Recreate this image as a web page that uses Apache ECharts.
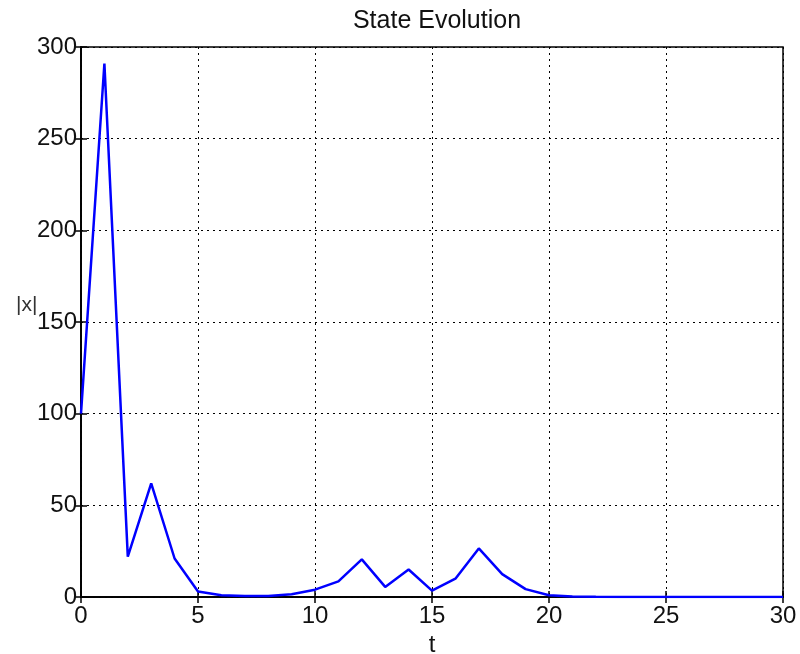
<!DOCTYPE html>
<html>
<head>
<meta charset="utf-8">
<script src="https://cdn.jsdelivr.net/npm/echarts@6/dist/echarts.min.js"></script>
<style>html,body{margin:0;padding:0;background:#fff}#c{width:800px;height:654px}</style>
</head>
<body>
<div id="c"></div>
<script>
const tValues = [0,1,2,3,4,5,6,7,8,9,10,11,12,13,14,15,16,17,18,19,20,21,22,23,24,25,26,27,28,29,30];
const xValues = [100,291,22,62,21,3,1,0.5,0.5,1.5,4,8.5,20.5,5.5,15,3.5,10,26.5,12.5,4.3,1,0.3,0.1,0,0,0,0,0,0,0,0];
const xTicks = [0,5,10,15,20,25,30];
const yTicks = [0,50,100,150,200,250,300];

const font = 'Liberation Sans, Arial, sans-serif';
const chart = echarts.init(document.getElementById('c'), null, {renderer:'canvas'});
const data = tValues.map((t,i)=>[t,xValues[i]]);
const gridLine = {show:true, lineStyle:{color:'#000', type:[2,4], width:1}};
chart.setOption({
  animation:false,
  backgroundColor:'#fff',
  title:{text:'State Evolution', left:432, textAlign:'center', top:4,
    textStyle:{fontFamily:font, fontWeight:'normal', fontSize:25, color:'#111'}},
  grid:{left:81, right:17, top:47, bottom:57, containLabel:false, outerBoundsMode:'none',
    show:true, borderColor:'#000', borderWidth:1.5, backgroundColor:'transparent'},
  xAxis:[{type:'value', min:0, max:30, interval:5,
    name:'t', nameLocation:'middle', nameGap:31,
    nameTextStyle:{fontFamily:font, fontSize:24, color:'#111'},
    axisLine:{show:true, lineStyle:{color:'#000', width:1.5}},
    axisTick:{show:true, inside:true, length:6, lineStyle:{color:'#000', width:1.5}},
    axisLabel:{fontFamily:font, fontSize:24, color:'#111', margin:7,
      formatter:v=>xTicks.includes(v)?String(v):''},
    splitLine:gridLine},
   {type:'value', position:'top', min:0, max:30, interval:5,
    axisLine:{show:true, lineStyle:{color:'#000', width:1.5}},
    axisTick:{show:true, inside:true, length:6, lineStyle:{color:'#000', width:1.5}},
    axisLabel:{show:false}, splitLine:{show:false}}],
  yAxis:[{type:'value', min:0, max:300, interval:50,
    axisLine:{show:true, lineStyle:{color:'#000', width:1.5}},
    axisTick:{show:true, inside:true, length:6, lineStyle:{color:'#000', width:1.5}},
    axisLabel:{fontFamily:font, fontSize:24, color:'#111', margin:4,
      formatter:v=>yTicks.includes(v)?String(v):''},
    splitLine:gridLine},
   {type:'value', position:'right', min:0, max:300, interval:50,
    axisLine:{show:true, lineStyle:{color:'#000', width:1.5}},
    axisTick:{show:true, inside:true, length:6, lineStyle:{color:'#000', width:1.5}},
    axisLabel:{show:false}, splitLine:{show:false}}],
  graphic:[{type:'text', left:16, top:295, style:{text:'|x|', fontFamily:font, fontSize:21, fill:'#333'}}],
  series:[{type:'line', data:data, showSymbol:false, symbol:'none',
    lineStyle:{color:'#0000ff', width:2.5}, xAxisIndex:0, yAxisIndex:0, z:3}]
});
</script>
</body>
</html>
